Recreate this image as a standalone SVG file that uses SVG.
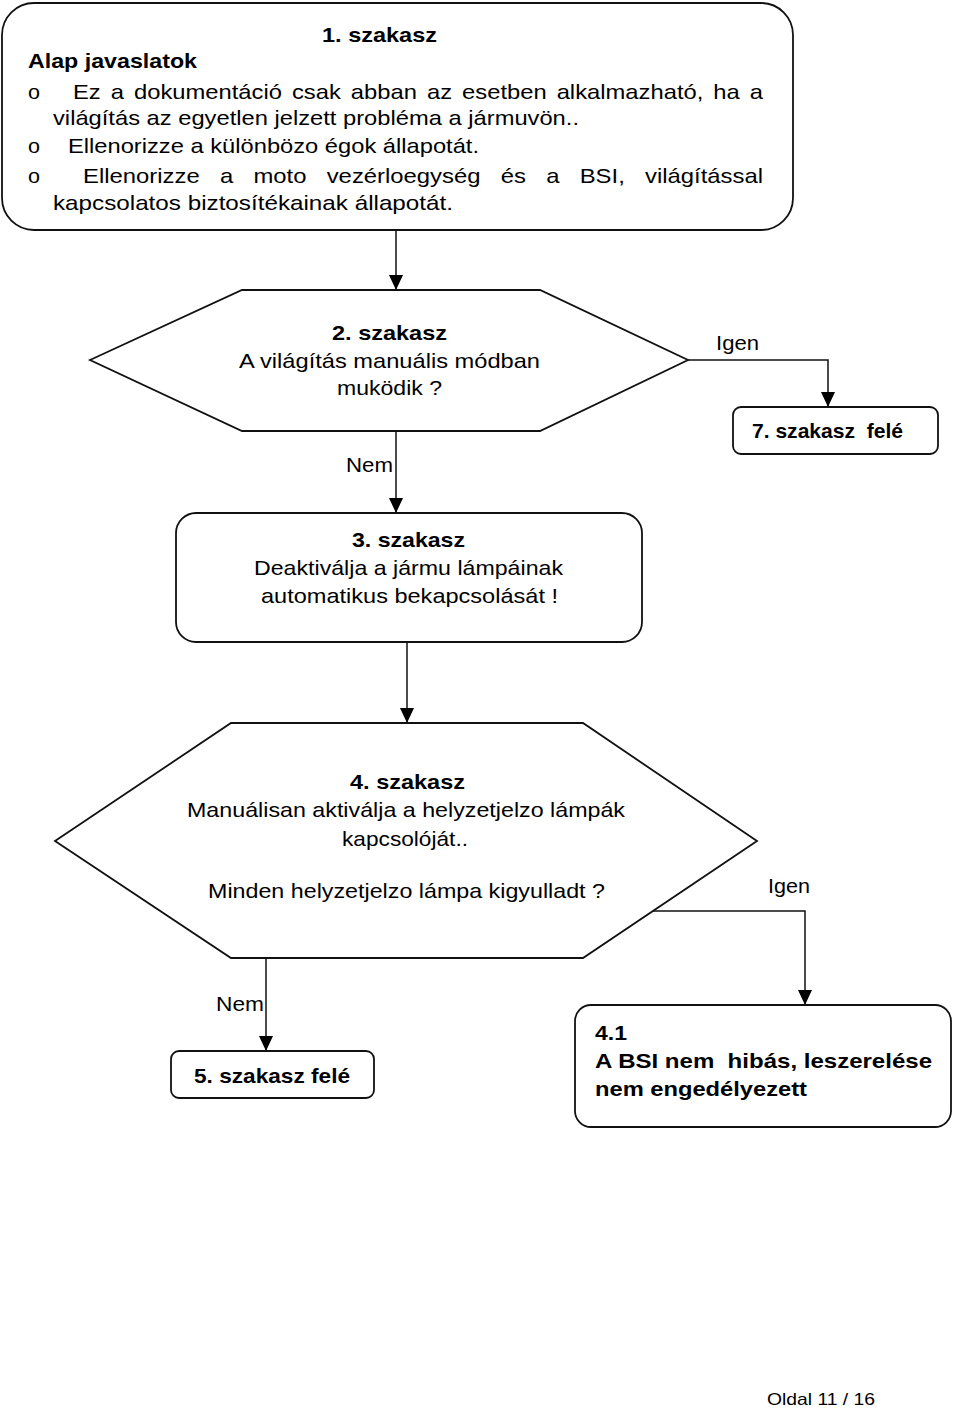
<svg xmlns="http://www.w3.org/2000/svg" width="960" height="1410" viewBox="0 0 960 1410">
<style>
  .shape { fill: #ffffff; stroke: #111111; stroke-width: 1.8; }
  .conn { fill: none; stroke: #111111; stroke-width: 1.5; }
  text { font-family: "Liberation Sans", Arial, sans-serif; font-size: 21px; fill: #000000; }
  .b { font-weight: bold; }
  .pre { white-space: pre; }
  .foot { font-size: 16.5px; }
</style>
<defs>
  <marker id="ah" markerWidth="15" markerHeight="14" refX="15" refY="7" orient="auto" markerUnits="userSpaceOnUse">
    <path d="M0,0 L15,7 L0,14 z" fill="#000000"/>
  </marker>
</defs>
<rect width="960" height="1410" fill="#ffffff"/>

<g id="connectors">
  <path class="conn" d="M396,231 V290" marker-end="url(#ah)"/>
  <path class="conn" d="M688,360 H828 V407" marker-end="url(#ah)"/>
  <path class="conn" d="M396,431 V513" marker-end="url(#ah)"/>
  <path class="conn" d="M407,642 V723" marker-end="url(#ah)"/>
  <path class="conn" d="M653,911 H805 V1005" marker-end="url(#ah)"/>
  <path class="conn" d="M266,958 V1051" marker-end="url(#ah)"/>
  <text x="716" y="350" textLength="43" lengthAdjust="spacingAndGlyphs">Igen</text>
  <text x="346" y="472" textLength="47" lengthAdjust="spacingAndGlyphs">Nem</text>
  <text x="768" y="893" textLength="42" lengthAdjust="spacingAndGlyphs">Igen</text>
  <text x="216" y="1011" textLength="48" lengthAdjust="spacingAndGlyphs">Nem</text>
</g>

<g id="node1">
  <rect class="shape" x="2" y="3" width="791" height="227" rx="32" ry="32"/>
  <text class="b" x="322" y="42" textLength="115" lengthAdjust="spacingAndGlyphs">1. szakasz</text>
  <text class="b" x="28" y="68" textLength="169" lengthAdjust="spacingAndGlyphs">Alap javaslatok</text>
  <text x="28" y="99" textLength="12" lengthAdjust="spacingAndGlyphs">o</text>
  <text x="73" y="99" word-spacing="3" textLength="690" lengthAdjust="spacingAndGlyphs">Ez a dokumentáció csak abban az esetben alkalmazható, ha a</text>
  <text x="53" y="125" textLength="526" lengthAdjust="spacingAndGlyphs">világítás az egyetlen jelzett probléma a jármuvön..</text>
  <text x="28" y="153" textLength="12" lengthAdjust="spacingAndGlyphs">o</text>
  <text x="68" y="153" textLength="411" lengthAdjust="spacingAndGlyphs">Ellenorizze a különbözo égok állapotát.</text>
  <text x="28" y="183" textLength="12" lengthAdjust="spacingAndGlyphs">o</text>
  <text x="83" y="183" word-spacing="12" textLength="680" lengthAdjust="spacingAndGlyphs">Ellenorizze a moto vezérloegység és a BSI, világítással</text>
  <text x="53" y="210" textLength="400" lengthAdjust="spacingAndGlyphs">kapcsolatos biztosítékainak állapotát.</text>
</g>

<g id="node2">
  <polygon class="shape" points="90,360 242,290 540,290 688,360 540,431 242,431"/>
  <text class="b" x="332" y="340" textLength="115" lengthAdjust="spacingAndGlyphs">2. szakasz</text>
  <text x="239" y="368" textLength="301" lengthAdjust="spacingAndGlyphs">A világítás manuális módban</text>
  <text x="337" y="395" textLength="105" lengthAdjust="spacingAndGlyphs">muködik ?</text>
</g>

<g id="node7">
  <rect class="shape" x="733" y="407" width="205" height="47" rx="8" ry="8"/>
  <text class="b pre" x="752" y="438" textLength="151" lengthAdjust="spacingAndGlyphs">7. szakasz  felé</text>
</g>

<g id="node3">
  <rect class="shape" x="176" y="513" width="466" height="129" rx="20" ry="20"/>
  <text class="b" x="352" y="547" textLength="113" lengthAdjust="spacingAndGlyphs">3. szakasz</text>
  <text x="254" y="575" textLength="309" lengthAdjust="spacingAndGlyphs">Deaktiválja a jármu lámpáinak</text>
  <text x="261" y="603" textLength="297" lengthAdjust="spacingAndGlyphs">automatikus bekapcsolását !</text>
</g>

<g id="node4">
  <polygon class="shape" points="55,841 231,723 583,723 757,841 583,958 231,958"/>
  <text class="b" x="350" y="789" textLength="115" lengthAdjust="spacingAndGlyphs">4. szakasz</text>
  <text x="187" y="817" textLength="438" lengthAdjust="spacingAndGlyphs">Manuálisan aktiválja a helyzetjelzo lámpák</text>
  <text x="342" y="846" textLength="126" lengthAdjust="spacingAndGlyphs">kapcsolóját..</text>
  <text x="208" y="898" textLength="397" lengthAdjust="spacingAndGlyphs">Minden helyzetjelzo lámpa kigyulladt ?</text>
</g>

<g id="node5">
  <rect class="shape" x="171" y="1051" width="203" height="47" rx="8" ry="8"/>
  <text class="b" x="194" y="1083" textLength="156" lengthAdjust="spacingAndGlyphs">5. szakasz felé</text>
</g>

<g id="node41">
  <rect class="shape" x="575" y="1005" width="376" height="122" rx="16" ry="16"/>
  <text class="b" x="595" y="1040" textLength="32" lengthAdjust="spacingAndGlyphs">4.1</text>
  <text class="b pre" x="595" y="1068" textLength="337" lengthAdjust="spacingAndGlyphs">A BSI nem  hibás, leszerelése</text>
  <text class="b" x="595" y="1096" textLength="212" lengthAdjust="spacingAndGlyphs">nem engedélyezett</text>
</g>

<g id="footer">
  <text class="foot" x="767" y="1405" textLength="108" lengthAdjust="spacingAndGlyphs">Oldal 11 / 16</text>
</g>
</svg>
